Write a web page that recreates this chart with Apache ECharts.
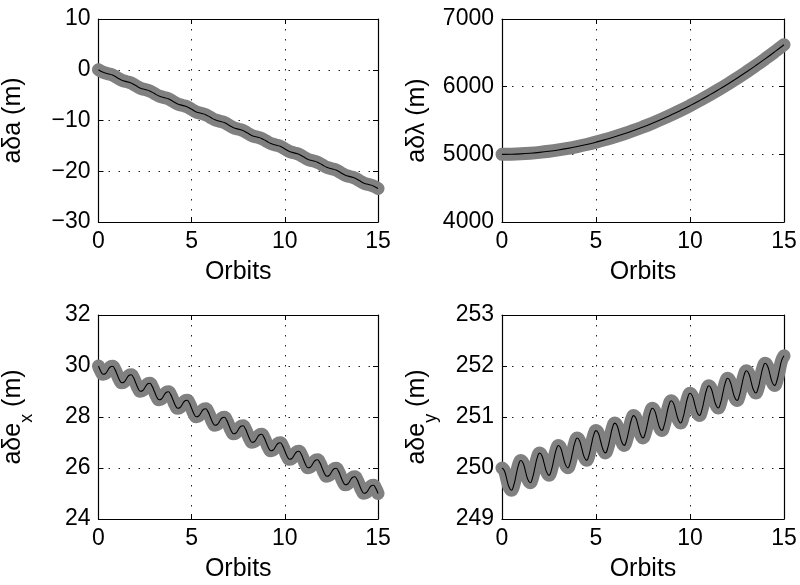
<!DOCTYPE html>
<html>
<head>
<meta charset="utf-8">
<script src="https://cdn.jsdelivr.net/npm/echarts@6/dist/echarts.min.js"></script>
<style>
html,body{margin:0;padding:0;background:#fff;}
#chart{width:800px;height:585px;}
</style>
</head>
<body>
<div id="chart"></div>
<script>
// ---- data ----
const xTicks = [0, 5, 10, 15];

// aδa (m), sampled every 1/4 orbit
const orbitsQuarter = Array.from({length: 61}, (_, i) => i / 4);
const dA = [0, -0.51, -0.78, -1.05, -1.56, -2.07, -2.34, -2.61, -3.12, -3.63, -3.90, -4.17,
  -4.68, -5.19, -5.46, -5.73, -6.24, -6.75, -7.02, -7.29, -7.80, -8.31, -8.58, -8.85,
  -9.36, -9.87, -10.14, -10.41, -10.92, -11.43, -11.70, -11.97, -12.48, -12.99, -13.26, -13.53,
  -14.04, -14.55, -14.82, -15.09, -15.60, -16.11, -16.38, -16.65, -17.16, -17.67, -17.94, -18.21,
  -18.72, -19.23, -19.50, -19.77, -20.28, -20.79, -21.06, -21.33, -21.84, -22.35, -22.62, -22.89, -23.40];

// aδλ (m), sampled every 1/2 orbit
const orbitsHalf = Array.from({length: 31}, (_, i) => i / 2);
const dLambda = [5000, 5001.8, 5007.2, 5016.2, 5028.8, 5045, 5064.8, 5088.2, 5115.2, 5145.8,
  5180, 5217.8, 5259.2, 5304.2, 5352.8, 5405, 5460.8, 5520.2, 5583.2, 5649.8,
  5720, 5793.8, 5871.2, 5952.2, 6036.8, 6125, 6216.8, 6312.2, 6411.2, 6513.8, 6620];

// aδe_x and aδe_y (m), sampled every 1/8 orbit
const orbitsEighth = Array.from({length: 121}, (_, i) => i / 8);
const dEx = [
  30.000, 29.788, 29.677, 29.705, 29.833, 29.962, 29.990, 29.878,
  29.667, 29.455, 29.344, 29.372, 29.500, 29.629, 29.657, 29.545,
  29.333, 29.121, 29.010, 29.038, 29.166, 29.295, 29.323, 29.211,
  29.000, 28.788, 28.677, 28.705, 28.833, 28.962, 28.990, 28.878,
  28.667, 28.455, 28.344, 28.372, 28.500, 28.629, 28.657, 28.545,
  28.333, 28.121, 28.010, 28.038, 28.166, 28.295, 28.323, 28.211,
  28.000, 27.788, 27.677, 27.705, 27.833, 27.962, 27.990, 27.878,
  27.667, 27.455, 27.344, 27.372, 27.500, 27.629, 27.657, 27.545,
  27.333, 27.121, 27.010, 27.038, 27.166, 27.295, 27.323, 27.211,
  27.000, 26.788, 26.677, 26.705, 26.833, 26.962, 26.990, 26.878,
  26.667, 26.455, 26.344, 26.372, 26.500, 26.629, 26.657, 26.545,
  26.333, 26.121, 26.010, 26.038, 26.166, 26.295, 26.323, 26.211,
  26.000, 25.788, 25.677, 25.705, 25.833, 25.962, 25.990, 25.878,
  25.667, 25.455, 25.344, 25.372, 25.500, 25.629, 25.657, 25.545,
  25.333, 25.121, 25.010, 25.038, 25.166, 25.295, 25.323, 25.211,
  25.000];
const dEy = [
  250.000, 249.947, 249.787, 249.626, 249.563, 249.662, 249.860, 250.057,
  250.147, 250.094, 249.934, 249.773, 249.710, 249.809, 250.007, 250.204,
  250.293, 250.240, 250.080, 249.919, 249.856, 249.955, 250.153, 250.350,
  250.440, 250.387, 250.227, 250.066, 250.003, 250.102, 250.300, 250.497,
  250.587, 250.534, 250.374, 250.213, 250.150, 250.249, 250.447, 250.644,
  250.733, 250.680, 250.520, 250.359, 250.296, 250.395, 250.593, 250.790,
  250.880, 250.827, 250.667, 250.506, 250.443, 250.542, 250.740, 250.937,
  251.027, 250.974, 250.814, 250.653, 250.590, 250.689, 250.887, 251.084,
  251.173, 251.120, 250.960, 250.799, 250.736, 250.835, 251.033, 251.230,
  251.320, 251.267, 251.107, 250.946, 250.883, 250.982, 251.180, 251.377,
  251.467, 251.414, 251.254, 251.093, 251.030, 251.129, 251.327, 251.524,
  251.613, 251.560, 251.400, 251.239, 251.176, 251.275, 251.473, 251.670,
  251.760, 251.707, 251.547, 251.386, 251.323, 251.422, 251.620, 251.817,
  251.907, 251.854, 251.694, 251.533, 251.470, 251.569, 251.767, 251.964,
  252.053, 252.000, 251.840, 251.679, 251.616, 251.715, 251.913, 252.110,
  252.200];

const yTicks0 = [-30, -20, -10, 0, 10];
const yTicks1 = [4000, 5000, 6000, 7000];
const yTicks2 = [24, 26, 28, 30, 32];
const yTicks3 = [249, 250, 251, 252, 253];

const yNames = ['{m|aδa (m)}', '{m|aδλ (m)}', '{m|aδe}{s|x}{m| (m)}', '{m|aδe}{s|y}{m| (m)}'];

// ---- build ----
const FONT = '"Liberation Sans", Arial, Helvetica, sans-serif';
const grids = [
  {left: 97, top: 19, width: 281, height: 203},
  {left: 502, top: 19, width: 282, height: 203},
  {left: 97, top: 315, width: 281, height: 204},
  {left: 502, top: 315, width: 282, height: 204}
];
const yTickSets = [yTicks0, yTicks1, yTicks2, yTicks3];

const splitStyle = {show: true, lineStyle: {color: '#222', width: 1, type: [1.5, 8.5]}};
const minus = v => String(v).replace('-', '\u2212');

const xAxis = [], yAxis = [], series = [];
grids.forEach((g, i) => {
  const yt = yTickSets[i];
  const ymin = yt[0], ymax = yt[yt.length - 1], yint = yt[1] - yt[0];
  xAxis.push({
    type: 'value', gridIndex: i, min: xTicks[0], max: xTicks[xTicks.length - 1],
    interval: xTicks[1] - xTicks[0],
    name: 'Orbits', nameLocation: 'middle', nameGap: 38,
    nameTextStyle: {fontFamily: FONT, fontSize: 25, color: '#000'},
    axisLine: {show: true, onZero: false, lineStyle: {color: '#000', width: 1.2}},
    axisTick: {show: true, inside: true, length: 5, lineStyle: {color: '#000'}},
    axisLabel: {fontFamily: FONT, fontSize: 23, color: '#000', margin: 8},
    splitLine: splitStyle
  });
  xAxis.push({
    type: 'value', gridIndex: i, position: 'top', min: xTicks[0], max: xTicks[xTicks.length - 1],
    interval: xTicks[1] - xTicks[0],
    axisLine: {show: true, onZero: false, lineStyle: {color: '#000', width: 1.2}},
    axisTick: {show: true, inside: true, length: 5, lineStyle: {color: '#000'}},
    axisLabel: {show: false}, splitLine: {show: false}
  });
  yAxis.push({
    type: 'value', gridIndex: i, min: ymin, max: ymax, interval: yint,
    name: yNames[i], nameLocation: 'middle', nameGap: 62, nameRotate: 90,
    nameTextStyle: {
      color: '#000',
      rich: {
        m: {fontFamily: FONT, fontSize: 25, color: '#000', lineHeight: 46, verticalAlign: 'middle'},
        s: {fontFamily: FONT, fontSize: 18, color: '#000', lineHeight: 18, verticalAlign: 'bottom'}
      }
    },
    axisLine: {show: true, onZero: false, lineStyle: {color: '#000', width: 1.2}},
    axisTick: {show: true, inside: true, length: 5, lineStyle: {color: '#000'}},
    axisLabel: {fontFamily: FONT, fontSize: 23, color: '#000', margin: 8, formatter: minus},
    splitLine: splitStyle
  });
  yAxis.push({
    type: 'value', gridIndex: i, position: 'right', min: ymin, max: ymax, interval: yint,
    axisLine: {show: true, onZero: false, lineStyle: {color: '#000', width: 1.2}},
    axisTick: {show: true, inside: true, length: 5, lineStyle: {color: '#000'}},
    axisLabel: {show: false}, splitLine: {show: false}
  });
});

const sets = [[orbitsQuarter, dA], [orbitsHalf, dLambda], [orbitsEighth, dEx], [orbitsEighth, dEy]];
sets.forEach(([xs, ys], i) => {
  const pts = xs.map((x, k) => [x, ys[k]]);
  series.push({
    type: 'line', xAxisIndex: 2 * i, yAxisIndex: 2 * i, data: pts, showSymbol: false, smooth: true,
    lineStyle: {color: '#808080', width: 13, cap: 'round', join: 'round'}, silent: true, animation: false, z: 2
  });
  series.push({
    type: 'line', xAxisIndex: 2 * i, yAxisIndex: 2 * i, data: pts, showSymbol: false, smooth: true,
    lineStyle: {color: '#000', width: 1.1}, silent: true, animation: false, z: 3
  });
});

const chart = echarts.init(document.getElementById('chart'), null, {renderer: 'canvas'});
chart.setOption({backgroundColor: '#fff', animation: false, grid: grids, xAxis, yAxis, series});
</script>
</body>
</html>
